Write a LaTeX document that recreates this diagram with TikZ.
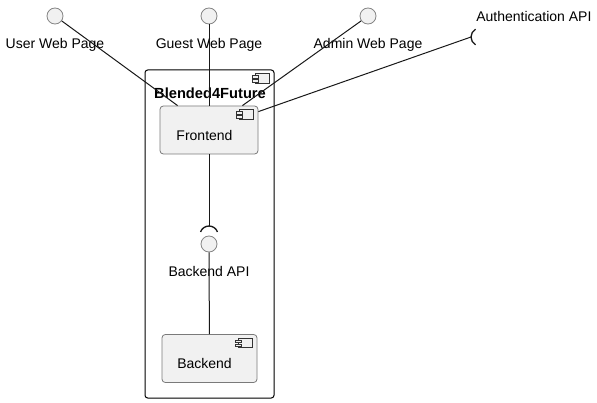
\documentclass[tikz,border=0pt]{standalone}
\usepackage{fontspec}
\setmainfont{Liberation Sans}
\usetikzlibrary{positioning}
\definecolor{ifaceFill}{HTML}{F1F1F1}
\definecolor{ifaceLine}{HTML}{858585}
\definecolor{compFill}{HTML}{F1F1F1}
\definecolor{compLine}{HTML}{7A7A7A}
\definecolor{wireCol}{HTML}{181818}

% component icon, top right corner at #1
\newcommand{\compicon}[1]{%
    \begin{scope}[shift={(#1)}]
        \draw[icon] (-19,-4) rectangle (-5,-13.5);
        \draw[icon] (-22,-6) rectangle (-16,-8.5);
        \draw[icon] (-22,-10) rectangle (-16,-12.5);
    \end{scope}}

\begin{document}
\begin{tikzpicture}[
    x=0.75pt, y=0.75pt,
    % Node styles
    iface/.style={
        circle,
        draw=ifaceLine,
        fill=ifaceFill,
        minimum size=12pt,
        inner sep=0pt,
        line width=0.6pt
    },
    lbl/.style={
        font=\fontsize{10.5}{12}\selectfont,
        inner sep=0pt
    },
    comp/.style={
        rectangle,
        rounded corners=2.5pt,
        draw=compLine,
        fill=compFill,
        line width=0.6pt,
        minimum width=#1,
        minimum height=36pt
    },
    pkg/.style={
        rectangle,
        rounded corners=2pt,
        draw=black,
        fill=white,
        line width=0.75pt,
        minimum width=96.75pt,
        minimum height=246pt
    },
    icon/.style={
        draw=black!80,
        fill=ifaceFill,
        line width=0.5pt
    },
    wire/.style={
        draw=wireCol,
        line width=0.75pt
    },
    socket/.style={
        draw=wireCol,
        line width=1pt
    }
]
    \useasboundingbox (0,0) rectangle (597,-403);

    % ==== PACKAGE ====
    \node[pkg] (pkgbox) at (209.5,-234) {};
    \node[font=\fontsize{11}{13}\selectfont\bfseries, inner sep=0pt] (pkgname) at (210,-93) {Blended4Future};
    \compicon{pkgbox.north east}

    % ==== COMPONENTS ====
    \node[comp=73.5pt] (fe) at (209,-130) {};
    \node[lbl] (fetxt) at (204.5,-135.5) {Frontend};
    \compicon{fe.north east}

    \node[comp=71.25pt] (be) at (209.5,-358.5) {};
    \node[lbl] (betxt) at (204.5,-363.5) {Backend};
    \compicon{be.north east}

    % ==== INTERFACES ====
    \node[iface] (usr) at (55,-16) {};
    \node[lbl, below=10.5pt of usr] (usrlbl) {User Web Page};
    \node[iface] (gst) at (209,-16) {};
    \node[lbl, below=10.5pt of gst] (gstlbl) {Guest Web Page};
    \node[iface] (adm) at (368,-16) {};
    \node[lbl, below=10.5pt of adm] (admlbl) {Admin Web Page};

    \node[iface] (beapi) at (209,-244) {};
    \node[lbl, below=10.5pt of beapi] (beapilbl) {Backend API};

    \coordinate (authsock) at (471,-37);
    \node[lbl, anchor=west] (authlbl) at (476,-16.5) {Authentication API};
    \coordinate (besock) at (209,-226);

    % ==== CONNECTIONS ====
    \draw[wire] (usr) -- ([xshift=13.5pt]fe.north west);
    \draw[wire] (gst) -- (fe);
    \draw[wire] (adm) -- ([xshift=-12pt]fe.north east);
    \draw[wire] (authsock) -- ([yshift=-4.5pt]fe.north east);
    \draw[wire] (fe) -- (besock);
    \draw[wire] (beapi) -- (be);

    % sockets
    \draw[socket] (authsock) arc[start angle=180, end angle=120, radius=9];
    \draw[socket] (authsock) arc[start angle=180, end angle=240, radius=9];
    \draw[socket] (besock) arc[start angle=90, end angle=20, radius=9];
    \draw[socket] (besock) arc[start angle=90, end angle=160, radius=9];

\end{tikzpicture}
\end{document}
